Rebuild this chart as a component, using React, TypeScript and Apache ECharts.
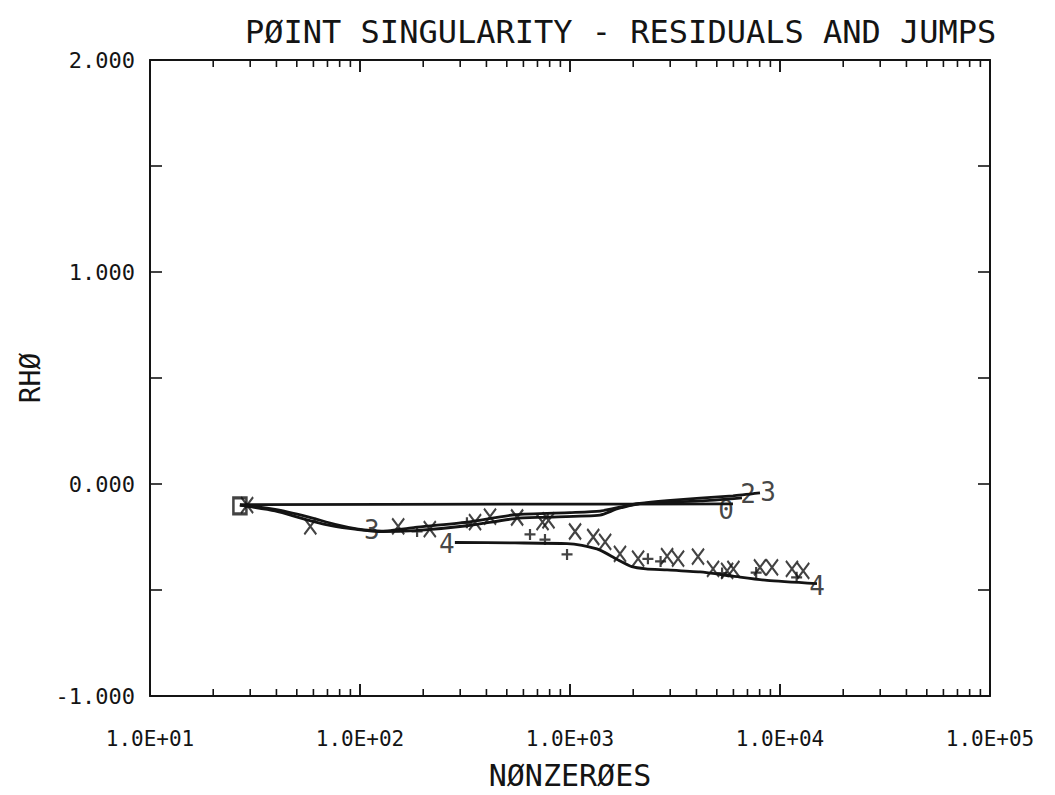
import React, { useEffect, useRef } from 'react';
import * as echarts from 'echarts';

const FONT = '"DejaVu Sans Mono", monospace';
const INK = '#141414';

const titleText = 'PØINT SINGULARITY - RESIDUALS AND JUMPS';
const xAxisName = 'NØNZERØES';
const yAxisName = 'RHØ';

const xTickLabels = ['1.0E+01', '1.0E+02', '1.0E+03', '1.0E+04', '1.0E+05'];
const yTickLabels = ['-1.000', '0.000', '1.000', '2.000'];

// log-axis tick positions: decades and multipliers within each decade
const decades = [10, 100, 1000, 10000];
const minorMultipliers = [2, 3, 4, 5, 6, 7, 8, 9];
const majorTickValues = [10, 100, 1000, 10000, 100000];

// curves [N, rho]
const curve0 = [[26.8, -0.097], [600, -0.095], [5970, -0.094]];
const curve2 = [
  [26.8, -0.1], [39.4, -0.12], [56.5, -0.155], [76, -0.19], [98, -0.213], [114, -0.22],
  [127, -0.222], [183, -0.205], [323, -0.18], [547, -0.145], [1000, -0.135], [1390, -0.128],
  [1870, -0.102], [2150, -0.092], [4160, -0.08], [6590, -0.065],
];
const curve3 = [
  [26.8, -0.1], [39.4, -0.127], [56.5, -0.17], [76, -0.2], [98, -0.215], [114, -0.222],
  [127, -0.225], [183, -0.22], [323, -0.197], [547, -0.163], [744, -0.157], [1390, -0.147],
  [1670, -0.118], [2150, -0.092], [2900, -0.078], [5970, -0.056], [8030, -0.042],
];
const curve4 = [
  [283, -0.276], [547, -0.278], [968, -0.281], [1140, -0.29], [1390, -0.312], [1670, -0.355],
  [1970, -0.39], [2300, -0.4], [2900, -0.405], [4160, -0.415], [5970, -0.435], [8670, -0.455],
  [15000, -0.47],
];

// jump markers
const xMarks = [
  [29, -0.1], [58, -0.2], [152, -0.2], [215, -0.213], [353, -0.18], [416, -0.154], [560, -0.158],
  [740, -0.18], [790, -0.172], [1057, -0.224], [1290, -0.25], [1470, -0.273], [1730, -0.33],
  [2110, -0.352], [2900, -0.34], [3270, -0.352], [4070, -0.343], [4800, -0.4], [5600, -0.41],
  [6000, -0.4], [8030, -0.393], [9160, -0.393], [11400, -0.4], [12900, -0.41],
];
const plusMarks = [
  [187, -0.224], [323, -0.183], [645, -0.238], [760, -0.262], [968, -0.332], [2350, -0.353],
  [2700, -0.365], [5300, -0.42], [7700, -0.418], [12000, -0.44],
];

// curve number labels [N, rho, text]
const curveLabels: [number, number, string][] = [
  [5530, -0.121, '0'],
  [7050, -0.047, '2'],
  [8770, -0.037, '3'],
  [114, -0.215, '3'],
  [259, -0.285, '4'],
  [15000, -0.483, '4'],
];
const startBox = [[26.8, -0.103]];

export default function App() {
  const ref = useRef<HTMLDivElement>(null);
  useEffect(() => {
    if (!ref.current) return;
    const chart = echarts.init(ref.current, null, { renderer: 'svg' });
    const ticks: number[][] = [];
    decades.forEach((d) => minorMultipliers.forEach((m) => ticks.push([d * m, 0, 7])));
    majorTickValues.forEach((v) => ticks.push([v, 0, 12]));

    const lineSeries = (data: number[][]) => ({
      type: 'line',
      data,
      showSymbol: false,
      smooth: 0.2,
      lineStyle: { color: INK, width: 2.8 },
      z: 3,
    });

    const mkAxisLine = () => ({ show: true, onZero: false, lineStyle: { color: INK, width: 2 } });
    const mkTick = () => ({ show: true, inside: true, length: 12, lineStyle: { color: INK, width: 1.6 } });

    chart.setOption({
      animation: false,
      backgroundColor: '#ffffff',
      graphic: [
        {
          type: 'text',
          left: 245,
          top: 16,
          style: { text: titleText, font: `normal 32px ${FONT}`, fill: INK },
        },
      ],
      grid: { left: 150, right: 65, top: 60, bottom: 92, containLabel: false },
      xAxis: [
        {
          type: 'log',
          logBase: 10,
          min: 10,
          max: 100000,
          position: 'bottom',
          axisLine: mkAxisLine(),
          axisTick: mkTick(),
          splitLine: { show: false },
          axisLabel: {
            formatter: (v: number) => xTickLabels[Math.round(Math.log10(v)) - 1] || '',
            fontFamily: FONT,
            fontSize: 21,
            color: INK,
            margin: 32,
            showMinLabel: true,
            showMaxLabel: true,
          },
          name: xAxisName,
          nameLocation: 'middle',
          nameGap: 64,
          nameTextStyle: { fontFamily: FONT, fontSize: 30, color: INK },
        },
        {
          type: 'log',
          logBase: 10,
          min: 10,
          max: 100000,
          position: 'top',
          axisLine: mkAxisLine(),
          axisTick: mkTick(),
          splitLine: { show: false },
          axisLabel: { show: false },
        },
      ],
      yAxis: [
        {
          type: 'value',
          min: -1,
          max: 2,
          interval: 0.5,
          position: 'left',
          axisLine: mkAxisLine(),
          axisTick: mkTick(),
          splitLine: { show: false },
          axisLabel: {
            formatter: (v: number) => (Number.isInteger(v) ? yTickLabels[v + 1] : ''),
            fontFamily: FONT,
            fontSize: 22,
            color: INK,
            margin: 15,
          },
          name: yAxisName,
          nameLocation: 'middle',
          nameGap: 100,
          nameRotate: 90,
          nameTextStyle: { fontFamily: FONT, fontSize: 28, color: INK },
        },
        {
          type: 'value',
          min: -1,
          max: 2,
          interval: 0.5,
          position: 'right',
          axisLine: mkAxisLine(),
          axisTick: mkTick(),
          splitLine: { show: false },
          axisLabel: { show: false },
        },
      ],
      series: [
        lineSeries(curve0),
        lineSeries(curve2),
        lineSeries(curve3),
        lineSeries(curve4),
        {
          type: 'scatter',
          data: xMarks,
          symbol: 'path://M0,0L10,14M10,0L0,14',
          symbolSize: [12, 16],
          itemStyle: { color: 'rgba(0,0,0,0)', borderColor: INK, borderWidth: 2.2 },
          z: 4,
        },
        {
          type: 'scatter',
          data: plusMarks,
          symbol: 'path://M5,0L5,10M0,5L10,5',
          symbolSize: [11, 11],
          itemStyle: { color: 'rgba(0,0,0,0)', borderColor: INK, borderWidth: 2.2 },
          z: 4,
        },
        {
          type: 'scatter',
          data: startBox,
          symbol: 'rect',
          symbolSize: [13, 16],
          itemStyle: { color: 'rgba(0,0,0,0)', borderColor: INK, borderWidth: 2.8 },
          z: 4,
        },
        {
          type: 'scatter',
          data: curveLabels,
          symbol: 'circle',
          symbolSize: 1,
          itemStyle: { color: 'rgba(0,0,0,0)' },
          label: {
            show: true,
            position: 'inside',
            formatter: (p: any) => p.value[2],
            fontFamily: FONT,
            fontSize: 26,
            color: INK,
          },
          z: 5,
        },
        {
          type: 'custom',
          data: ticks,
          silent: true,
          clip: false,
          z: 100,
          renderItem: (_params: any, api: any) => {
            const v = api.value(0);
            const len = api.value(2);
            const b = api.coord([v, -1]);
            const t = api.coord([v, 2]);
            return {
              type: 'group',
              children: [
                { type: 'rect', shape: { x: b[0] - 0.8, y: b[1] - len, width: 1.6, height: len }, style: { fill: INK } },
                { type: 'rect', shape: { x: t[0] - 0.8, y: t[1], width: 1.6, height: len }, style: { fill: INK } },
              ],
            };
          },
        },
      ],
    });
    return () => chart.dispose();
  }, []);

  return (
    <div
      ref={ref}
      style={{ position: 'absolute', left: 0, top: 0, width: 1055, height: 795, background: '#fff' }}
    />
  );
}
